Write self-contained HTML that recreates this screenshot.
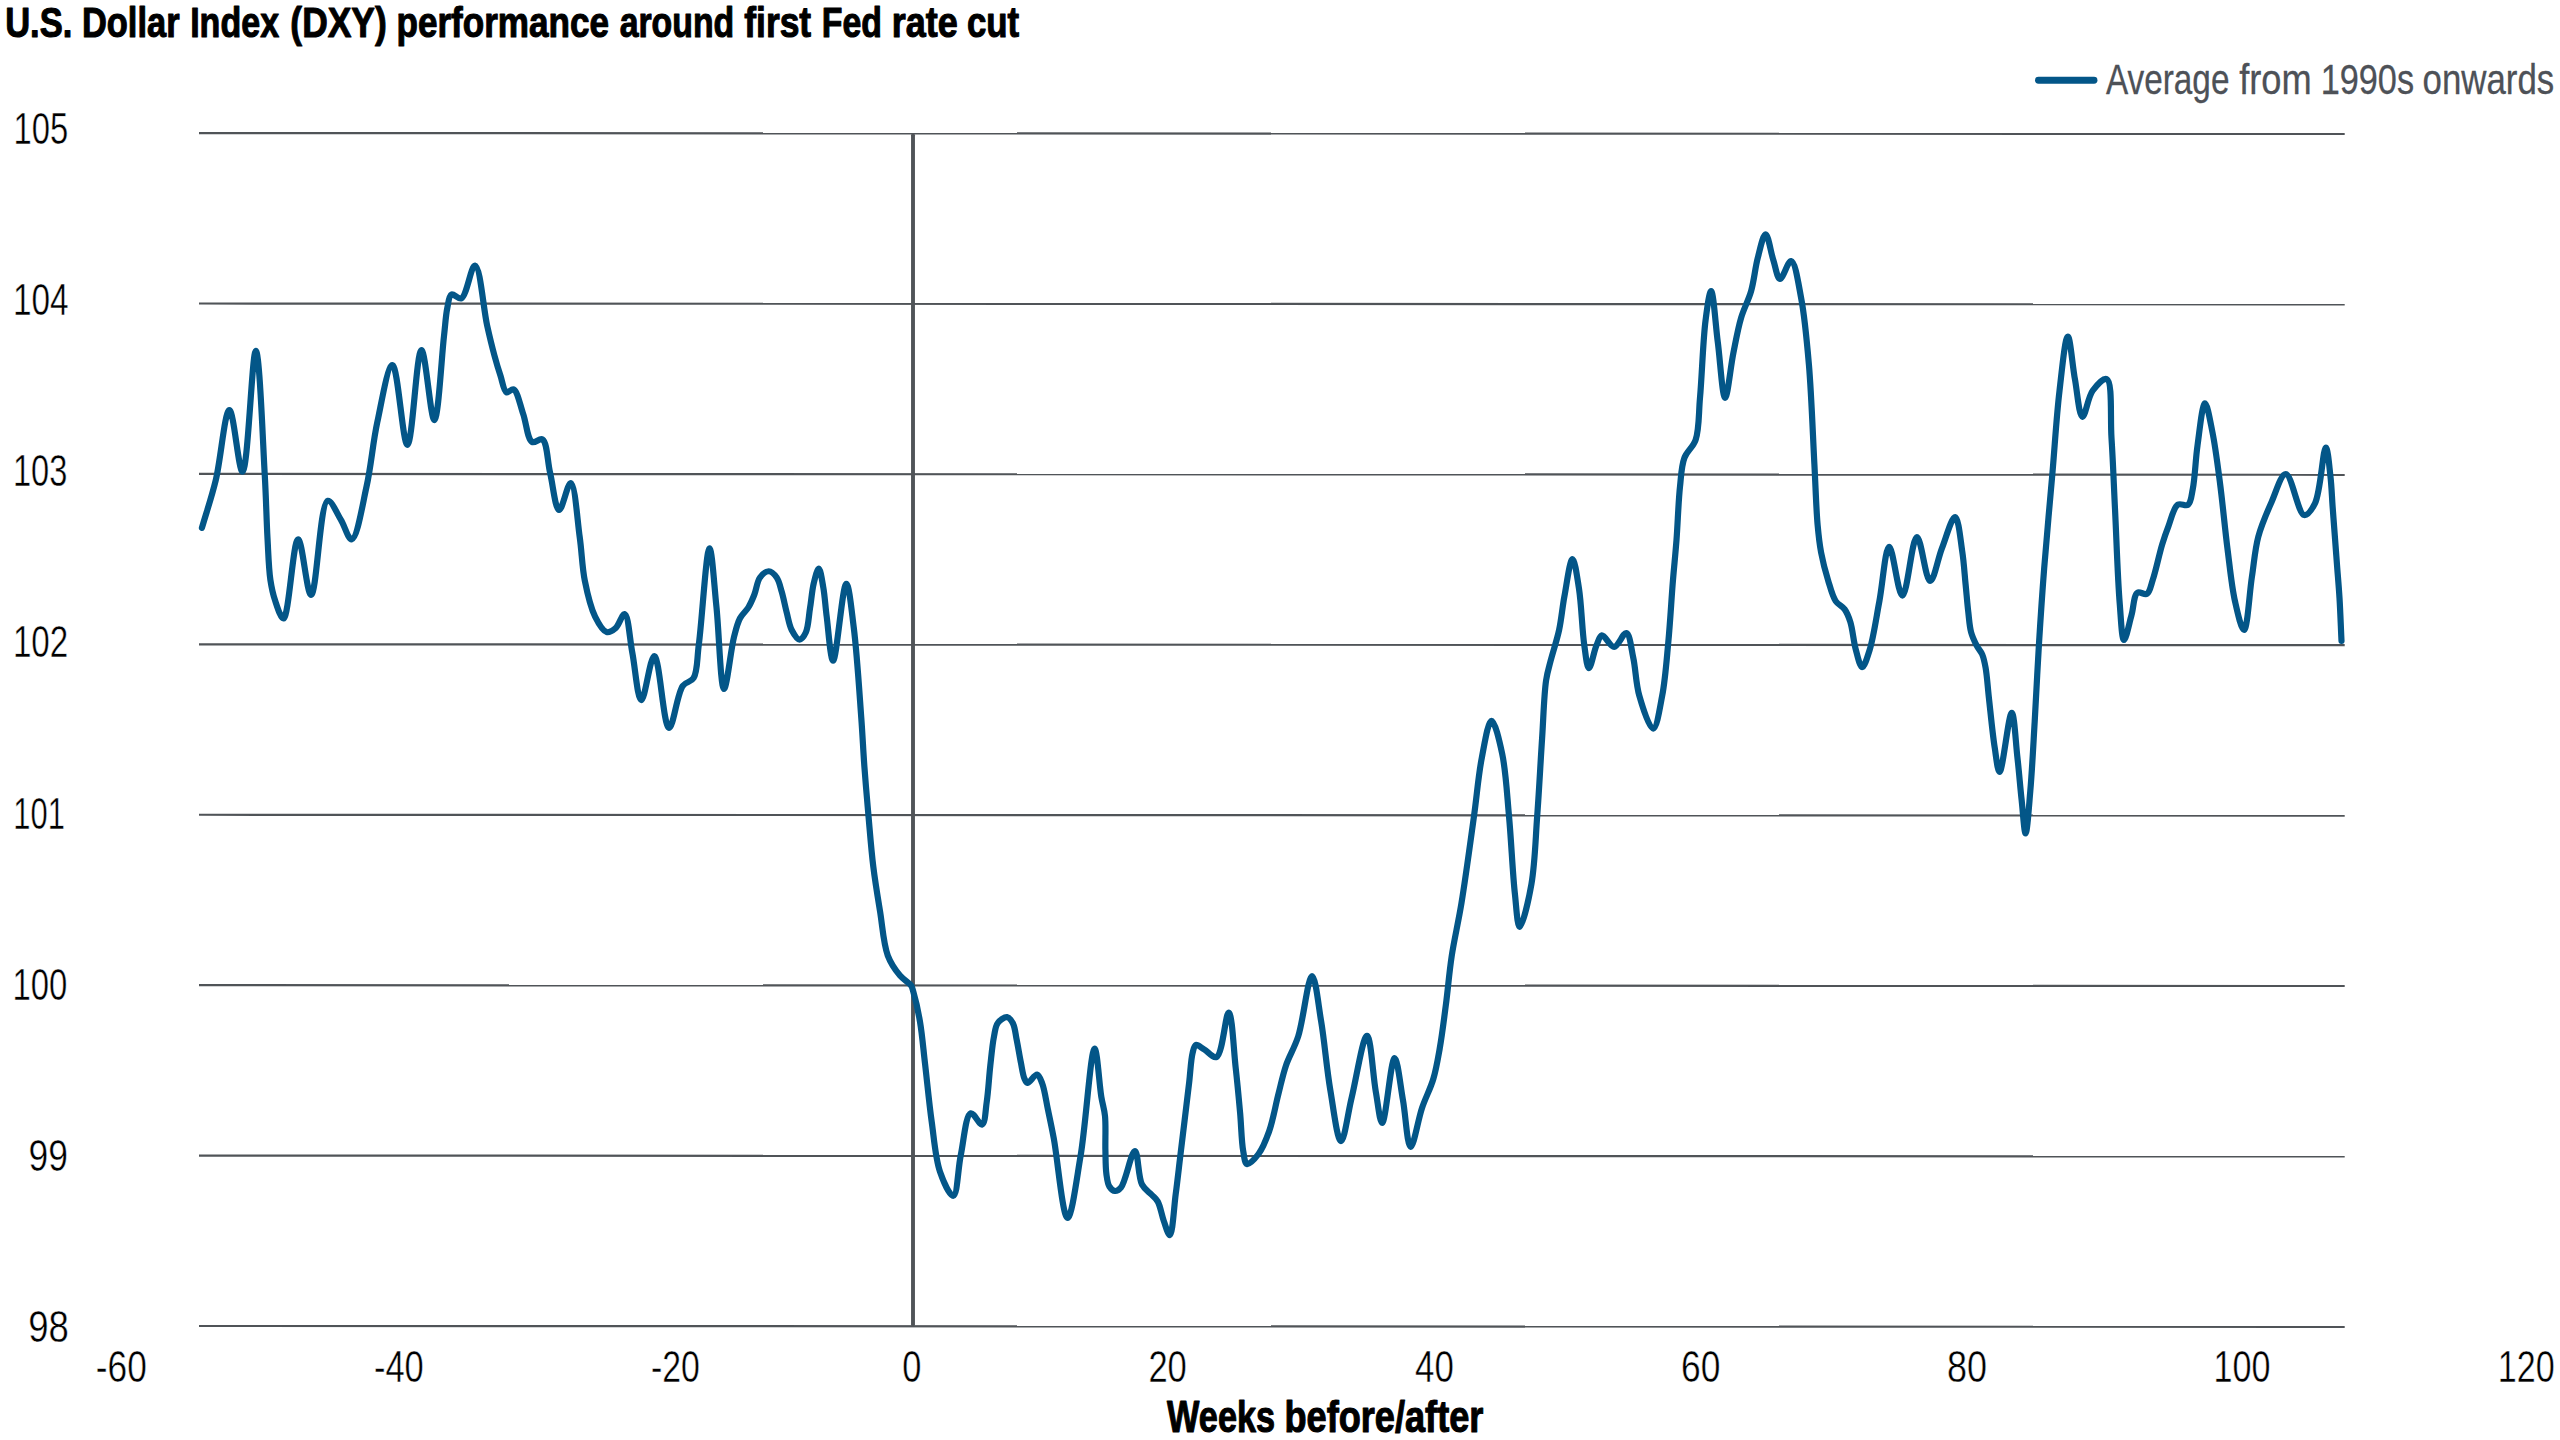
<!DOCTYPE html>
<html><head><meta charset="utf-8"><title>U.S. Dollar Index (DXY) performance around first Fed rate cut</title>
<style>
html,body{margin:0;padding:0;background:#fff;}
body{width:2560px;height:1440px;overflow:hidden;}
svg{display:block;}
</style></head><body>
<svg width="2560" height="1440" viewBox="0 0 2560 1440">
<rect width="2560" height="1440" fill="#fff"/>
<line x1="2038.5" y1="80.25" x2="2094" y2="80.25" stroke="#035688" stroke-width="6.9" stroke-linecap="round"/>
<line x1="199" y1="133.10" x2="2344.7" y2="133.95" stroke="#505458" stroke-width="2.2"/><line x1="199" y1="303.51" x2="2344.7" y2="304.36" stroke="#505458" stroke-width="2.2"/><line x1="199" y1="473.93" x2="2344.7" y2="474.78" stroke="#505458" stroke-width="2.2"/><line x1="199" y1="644.34" x2="2344.7" y2="645.19" stroke="#505458" stroke-width="2.2"/><line x1="199" y1="814.76" x2="2344.7" y2="815.61" stroke="#505458" stroke-width="2.2"/><line x1="199" y1="985.17" x2="2344.7" y2="986.02" stroke="#505458" stroke-width="2.2"/><line x1="199" y1="1155.58" x2="2344.7" y2="1156.43" stroke="#505458" stroke-width="2.2"/><line x1="199" y1="1326.00" x2="2344.7" y2="1326.85" stroke="#505458" stroke-width="2.2"/>
<line x1="913" y1="135.2" x2="913" y2="1324.6" stroke="#505458" stroke-width="3.9" stroke-linecap="round"/>
<g font-family='"Liberation Sans", Arial, sans-serif'>
<text y="36.5" font-size="43.4" font-weight="bold" fill="#000" stroke="#000" stroke-width="1.1" stroke-linejoin="round"><tspan x="5.18" textLength="67.16" lengthAdjust="spacingAndGlyphs">U.S.</tspan> <tspan x="81.95" textLength="97.64" lengthAdjust="spacingAndGlyphs">Dollar</tspan> <tspan x="190.17" textLength="88.91" lengthAdjust="spacingAndGlyphs">Index</tspan> <tspan x="290.34" textLength="96.44" lengthAdjust="spacingAndGlyphs">(DXY)</tspan> <tspan x="396.51" textLength="212.47" lengthAdjust="spacingAndGlyphs">performance</tspan> <tspan x="619.67" textLength="114.59" lengthAdjust="spacingAndGlyphs">around</tspan> <tspan x="744.25" textLength="66.93" lengthAdjust="spacingAndGlyphs">first</tspan> <tspan x="821.78" textLength="60.18" lengthAdjust="spacingAndGlyphs">Fed</tspan> <tspan x="891.75" textLength="66.05" lengthAdjust="spacingAndGlyphs">rate</tspan> <tspan x="966.91" textLength="52.26" lengthAdjust="spacingAndGlyphs">cut</tspan></text>
<text y="93.9" font-size="43.2" font-weight="normal" fill="#4d5157" stroke="#4d5157" stroke-width="0.3" stroke-linejoin="round"><tspan x="2105.90" textLength="123.55" lengthAdjust="spacingAndGlyphs">Average</tspan> <tspan x="2239.20" textLength="72.58" lengthAdjust="spacingAndGlyphs">from</tspan> <tspan x="2320.66" textLength="93.41" lengthAdjust="spacingAndGlyphs">1990s</tspan> <tspan x="2422.51" textLength="131.68" lengthAdjust="spacingAndGlyphs">onwards</tspan></text>
<text y="1431.7" font-size="43.6" font-weight="bold" fill="#000" stroke="#000" stroke-width="1.1" stroke-linejoin="round"><tspan x="1167.10" textLength="107.99" lengthAdjust="spacingAndGlyphs">Weeks</tspan> <tspan x="1284.44" textLength="198.97" lengthAdjust="spacingAndGlyphs">before/after</tspan></text>
<text y="144.0" font-size="43.6" font-weight="normal" fill="#000" stroke="#fff" stroke-width="0.45"><tspan x="13.55" textLength="54.68" lengthAdjust="spacingAndGlyphs">105</tspan></text>
<text y="314.9" font-size="43.6" font-weight="normal" fill="#000" stroke="#fff" stroke-width="0.45"><tspan x="12.92" textLength="55.61" lengthAdjust="spacingAndGlyphs">104</tspan></text>
<text y="485.8" font-size="43.6" font-weight="normal" fill="#000" stroke="#fff" stroke-width="0.45"><tspan x="12.96" textLength="54.36" lengthAdjust="spacingAndGlyphs">103</tspan></text>
<text y="656.9" font-size="43.6" font-weight="normal" fill="#000" stroke="#fff" stroke-width="0.45"><tspan x="12.93" textLength="55.32" lengthAdjust="spacingAndGlyphs">102</tspan></text>
<text y="828.8" font-size="43.6" font-weight="normal" fill="#000" stroke="#fff" stroke-width="0.45"><tspan x="13.37" textLength="51.48" lengthAdjust="spacingAndGlyphs">101</tspan></text>
<text y="1000.2" font-size="43.6" font-weight="normal" fill="#000" stroke="#fff" stroke-width="0.45"><tspan x="12.44" textLength="54.87" lengthAdjust="spacingAndGlyphs">100</tspan></text>
<text y="1171.2" font-size="43.6" font-weight="normal" fill="#000" stroke="#fff" stroke-width="0.45"><tspan x="28.54" textLength="39.40" lengthAdjust="spacingAndGlyphs">99</tspan></text>
<text y="1341.5" font-size="43.6" font-weight="normal" fill="#000" stroke="#fff" stroke-width="0.45"><tspan x="28.28" textLength="40.70" lengthAdjust="spacingAndGlyphs">98</tspan></text>
<text y="1381.5" font-size="43.6" font-weight="normal" fill="#000" stroke="#fff" stroke-width="0.45"><tspan x="95.80" textLength="50.98" lengthAdjust="spacingAndGlyphs">-60</tspan></text>
<text y="1381.5" font-size="43.6" font-weight="normal" fill="#000" stroke="#fff" stroke-width="0.45"><tspan x="373.92" textLength="49.84" lengthAdjust="spacingAndGlyphs">-40</tspan></text>
<text y="1381.5" font-size="43.6" font-weight="normal" fill="#000" stroke="#fff" stroke-width="0.45"><tspan x="650.94" textLength="48.90" lengthAdjust="spacingAndGlyphs">-20</tspan></text>
<text y="1381.5" font-size="43.6" font-weight="normal" fill="#000" stroke="#fff" stroke-width="0.45"><tspan x="902.32" textLength="19.13" lengthAdjust="spacingAndGlyphs">0</tspan></text>
<text y="1381.5" font-size="43.6" font-weight="normal" fill="#000" stroke="#fff" stroke-width="0.45"><tspan x="1148.38" textLength="38.48" lengthAdjust="spacingAndGlyphs">20</tspan></text>
<text y="1381.5" font-size="43.6" font-weight="normal" fill="#000" stroke="#fff" stroke-width="0.45"><tspan x="1415.05" textLength="38.81" lengthAdjust="spacingAndGlyphs">40</tspan></text>
<text y="1381.5" font-size="43.6" font-weight="normal" fill="#000" stroke="#fff" stroke-width="0.45"><tspan x="1681.04" textLength="39.34" lengthAdjust="spacingAndGlyphs">60</tspan></text>
<text y="1381.5" font-size="43.6" font-weight="normal" fill="#000" stroke="#fff" stroke-width="0.45"><tspan x="1946.88" textLength="40.02" lengthAdjust="spacingAndGlyphs">80</tspan></text>
<text y="1381.5" font-size="43.6" font-weight="normal" fill="#000" stroke="#fff" stroke-width="0.45"><tspan x="2213.47" textLength="56.99" lengthAdjust="spacingAndGlyphs">100</tspan></text>
<text y="1381.5" font-size="43.6" font-weight="normal" fill="#000" stroke="#fff" stroke-width="0.45"><tspan x="2497.87" textLength="56.99" lengthAdjust="spacingAndGlyphs">120</tspan></text>
</g>
<path d="M201.90,527.90 C206.53,511.93 211.55,497.57 215.80,480.00 C220.88,459.02 224.81,410.24 229.40,410.20 C233.72,410.16 238.63,471.89 242.50,471.70 C247.89,471.43 252.10,350.73 255.80,350.80 C259.56,350.87 262.81,441.27 264.80,475.80 C266.20,500.20 266.44,519.57 267.50,538.30 C268.36,553.61 268.69,568.55 270.40,580.00 C271.62,588.18 272.94,594.26 275.20,600.80 C277.36,607.06 280.85,618.84 283.50,618.50 C288.87,617.81 293.08,539.52 298.10,539.40 C302.32,539.30 306.79,594.92 311.10,594.80 C316.68,594.64 319.90,502.52 327.70,500.80 C331.52,499.96 336.79,513.15 340.80,519.60 C344.78,525.99 348.25,539.70 351.70,539.30 C357.07,538.68 362.35,505.33 366.50,486.80 C371.04,466.50 372.83,442.96 377.30,422.20 C381.55,402.50 387.72,365.03 392.40,365.20 C397.89,365.40 402.74,444.89 407.40,444.80 C412.47,444.70 416.56,350.19 421.40,350.10 C425.57,350.03 430.64,420.22 434.30,420.10 C438.29,419.97 441.61,356.51 444.00,336.00 C445.38,324.16 445.69,315.59 447.30,308.00 C448.44,302.63 448.82,295.78 451.50,294.50 C453.81,293.40 458.31,299.66 461.30,298.40 C466.80,296.08 471.08,265.12 475.00,265.50 C480.13,266.00 483.41,308.74 487.10,325.30 C489.74,337.16 492.05,346.64 494.50,355.70 C496.51,363.12 498.40,369.46 500.50,375.80 C502.42,381.60 503.55,390.99 506.50,392.30 C508.45,393.16 511.46,388.48 513.60,389.40 C517.54,391.09 520.10,405.24 523.10,413.70 C526.30,422.72 527.39,439.38 532.10,442.00 C534.92,443.57 539.68,437.74 542.40,439.40 C547.28,442.38 547.40,461.37 550.10,472.80 C552.95,484.87 555.35,509.68 559.10,510.00 C562.39,510.28 567.54,482.62 570.70,483.00 C575.01,483.52 577.28,519.92 579.70,537.00 C581.87,552.31 582.05,566.94 584.80,580.70 C587.34,593.39 590.55,607.52 595.10,616.70 C598.36,623.28 602.55,631.02 606.60,632.10 C609.49,632.87 612.90,630.50 615.60,628.20 C619.12,625.20 622.12,613.64 624.60,614.10 C628.39,614.81 629.67,639.08 632.30,652.60 C635.22,667.62 637.57,700.01 641.30,700.20 C644.94,700.38 650.17,655.83 654.30,656.00 C659.52,656.22 663.53,727.58 669.00,727.90 C673.25,728.15 676.94,693.76 682.80,685.80 C685.99,681.47 690.88,682.43 693.50,678.20 C697.72,671.39 696.90,658.71 698.80,644.60 C702.00,620.79 706.27,548.31 709.50,548.30 C712.01,548.29 714.18,585.32 716.40,606.40 C719.04,631.48 720.55,688.73 724.00,688.90 C726.75,689.04 730.70,649.90 734.00,637.00 C736.01,629.13 737.28,623.49 740.00,618.30 C742.27,613.98 745.94,611.37 748.30,607.50 C750.68,603.60 752.37,599.58 754.20,595.00 C756.31,589.71 757.00,581.57 760.00,577.50 C762.29,574.39 765.93,571.19 768.75,571.25 C771.49,571.31 774.63,574.61 776.70,577.50 C779.23,581.03 780.16,586.47 781.70,591.70 C783.54,597.93 784.96,605.88 786.70,612.50 C788.30,618.60 789.20,625.24 791.70,630.00 C793.77,633.93 797.11,639.56 799.60,639.60 C801.77,639.63 804.19,635.87 805.80,632.50 C808.40,627.06 808.68,616.44 810.00,608.30 C811.34,600.04 812.01,590.47 813.75,583.30 C815.11,577.68 817.23,568.53 818.75,568.60 C820.45,568.68 822.05,580.48 823.30,587.50 C824.84,596.14 825.30,605.99 826.70,616.70 C828.42,629.86 830.46,660.57 833.10,660.60 C836.60,660.64 842.48,583.75 846.25,583.75 C849.10,583.75 851.56,610.26 853.75,627.50 C856.88,652.09 859.37,691.99 861.25,717.50 C862.64,736.35 863.20,750.39 864.40,766.70 C865.59,782.85 866.95,798.55 868.40,814.90 C869.91,831.86 871.27,850.13 873.30,866.70 C875.19,882.10 877.59,896.31 880.00,911.10 C882.42,925.94 883.43,944.01 887.80,955.60 C890.95,963.95 895.62,970.32 900.00,975.60 C903.50,979.82 908.96,982.42 911.10,985.60 C912.51,987.70 912.47,988.86 913.30,991.70 C915.10,997.88 918.14,1010.83 920.00,1021.70 C922.17,1034.39 923.23,1048.26 925.00,1063.30 C927.09,1081.12 929.08,1103.02 931.70,1121.70 C934.13,1139.05 935.36,1158.35 940.00,1171.70 C943.42,1181.54 949.94,1196.35 953.30,1195.80 C957.42,1195.13 957.91,1168.64 960.80,1155.00 C963.73,1141.14 965.70,1114.75 970.80,1113.30 C973.91,1112.42 979.46,1125.30 982.10,1124.50 C985.26,1123.54 985.43,1110.51 986.70,1102.10 C988.31,1091.45 989.01,1077.07 990.30,1065.60 C991.46,1055.34 992.41,1044.31 994.00,1036.50 C995.10,1031.10 995.34,1026.27 997.80,1023.00 C999.97,1020.11 1004.48,1016.87 1007.10,1017.20 C1009.40,1017.49 1011.41,1020.52 1012.90,1023.30 C1014.99,1027.20 1015.38,1033.52 1016.60,1039.40 C1018.06,1046.44 1019.48,1055.70 1020.90,1062.70 C1022.07,1068.49 1022.85,1074.93 1024.40,1078.50 C1025.30,1080.57 1026.05,1082.82 1027.50,1083.00 C1029.71,1083.27 1034.49,1074.21 1037.00,1074.60 C1039.22,1074.94 1040.60,1079.33 1042.10,1083.10 C1044.57,1089.32 1046.00,1100.40 1047.90,1109.40 C1049.90,1118.85 1051.53,1126.39 1053.80,1138.50 C1057.54,1158.46 1062.75,1217.91 1067.50,1218.00 C1071.72,1218.08 1076.57,1179.42 1080.60,1155.80 C1085.85,1125.01 1090.73,1048.72 1094.60,1048.70 C1097.19,1048.69 1099.25,1084.30 1101.30,1096.70 C1102.61,1104.59 1104.26,1108.62 1105.00,1116.00 C1105.98,1125.70 1105.12,1139.65 1105.40,1150.00 C1105.63,1158.70 1105.47,1167.33 1106.40,1174.00 C1107.08,1178.88 1107.54,1183.57 1109.40,1186.50 C1110.79,1188.69 1113.05,1190.85 1115.00,1191.00 C1116.92,1191.14 1119.01,1189.84 1121.00,1187.50 C1125.71,1181.95 1131.35,1150.72 1134.90,1151.00 C1138.22,1151.26 1137.99,1176.84 1142.00,1184.50 C1144.61,1189.48 1149.04,1191.89 1151.90,1195.00 C1154.14,1197.44 1156.09,1198.58 1157.80,1201.60 C1160.39,1206.18 1161.64,1215.09 1163.80,1221.00 C1165.68,1226.15 1168.10,1235.42 1169.80,1235.20 C1172.58,1234.84 1173.93,1207.55 1175.70,1194.20 C1177.38,1181.48 1178.70,1169.33 1180.20,1156.90 C1181.70,1144.47 1183.20,1132.04 1184.70,1119.60 C1186.20,1107.14 1187.82,1093.90 1189.20,1082.20 C1190.42,1071.87 1190.89,1059.61 1192.60,1053.00 C1193.53,1049.41 1194.05,1045.66 1195.90,1045.00 C1197.82,1044.31 1201.11,1047.68 1204.10,1049.40 C1207.84,1051.54 1213.03,1058.37 1216.50,1057.00 C1222.67,1054.57 1225.57,1012.48 1228.70,1012.70 C1232.12,1012.94 1233.65,1049.66 1235.60,1067.00 C1237.39,1082.90 1238.79,1098.22 1240.10,1112.80 C1241.29,1126.11 1241.48,1141.68 1243.20,1151.00 C1244.22,1156.54 1244.59,1163.29 1247.00,1164.00 C1249.55,1164.75 1255.13,1158.47 1258.50,1154.00 C1262.84,1148.25 1266.12,1139.79 1269.20,1131.10 C1272.96,1120.48 1275.35,1105.99 1278.30,1094.50 C1280.93,1084.23 1282.74,1074.98 1286.00,1065.40 C1289.34,1055.61 1294.46,1048.01 1298.20,1036.40 C1303.45,1020.10 1307.98,975.95 1312.00,976.00 C1315.46,976.04 1318.31,1004.43 1321.10,1021.10 C1324.53,1041.57 1326.68,1068.72 1330.30,1089.90 C1333.45,1108.29 1337.29,1141.04 1341.00,1141.10 C1344.44,1141.16 1347.80,1113.29 1351.70,1097.50 C1356.33,1078.71 1362.92,1035.62 1367.00,1035.80 C1370.85,1035.97 1372.92,1075.79 1375.80,1091.70 C1377.96,1103.63 1379.76,1122.92 1382.20,1122.90 C1385.71,1122.88 1390.84,1058.22 1394.60,1058.20 C1397.61,1058.19 1400.30,1085.41 1402.90,1099.70 C1405.66,1114.88 1407.21,1146.59 1410.60,1146.80 C1413.73,1146.99 1418.02,1119.65 1422.10,1107.70 C1425.65,1097.31 1430.37,1088.83 1433.30,1079.00 C1436.24,1069.13 1437.74,1059.74 1439.70,1048.60 C1442.06,1035.17 1444.03,1019.06 1446.00,1003.90 C1448.04,988.24 1449.23,972.37 1451.70,956.10 C1454.30,938.97 1458.15,923.36 1461.40,903.60 C1465.58,878.17 1470.36,842.32 1474.00,816.10 C1476.97,794.71 1478.42,774.94 1481.80,757.80 C1484.53,743.98 1488.01,720.90 1491.50,720.80 C1494.83,720.71 1499.43,740.98 1502.20,753.90 C1505.91,771.23 1506.97,794.19 1509.00,816.10 C1511.26,840.57 1512.64,873.47 1514.90,893.90 C1516.38,907.25 1517.27,926.75 1519.70,926.90 C1522.50,927.07 1528.55,900.23 1531.40,884.20 C1534.95,864.28 1535.46,839.57 1537.20,816.10 C1539.06,791.04 1540.51,762.32 1542.10,738.30 C1543.47,717.57 1543.98,694.58 1546.10,680.40 C1547.36,672.01 1548.85,667.90 1550.70,660.60 C1553.01,651.49 1556.84,640.50 1559.10,630.00 C1561.44,619.13 1562.26,607.87 1564.40,596.40 C1566.67,584.24 1569.94,559.00 1572.50,559.00 C1574.78,559.00 1577.20,577.23 1579.00,588.80 C1581.45,604.58 1582.15,630.69 1584.30,645.30 C1585.68,654.67 1586.89,668.08 1588.90,668.20 C1590.94,668.32 1593.91,651.27 1596.50,645.30 C1598.27,641.22 1599.40,635.80 1601.90,635.40 C1604.94,634.91 1610.12,646.98 1614.10,646.80 C1618.27,646.61 1623.20,632.39 1626.30,633.10 C1629.94,633.94 1631.19,648.39 1633.20,657.50 C1635.68,668.75 1635.86,683.64 1639.30,695.70 C1642.60,707.28 1649.26,728.84 1653.10,728.60 C1656.86,728.36 1659.79,708.10 1662.20,695.70 C1665.22,680.13 1666.56,660.64 1668.30,642.20 C1670.16,622.53 1671.41,599.45 1672.90,581.10 C1674.13,566.04 1675.38,554.60 1676.50,540.00 C1677.77,523.39 1678.36,501.74 1680.00,486.70 C1681.21,475.57 1681.35,466.01 1684.40,457.80 C1686.99,450.84 1692.98,447.57 1695.60,440.00 C1699.32,429.24 1698.57,414.01 1700.00,397.80 C1701.94,375.82 1703.04,339.58 1705.60,320.00 C1707.17,307.97 1709.33,291.05 1711.10,291.10 C1713.44,291.17 1715.52,324.81 1717.80,342.20 C1720.18,360.34 1722.35,397.73 1725.10,397.80 C1727.57,397.86 1730.48,367.27 1733.30,353.30 C1735.83,340.78 1737.88,328.69 1741.10,317.80 C1743.95,308.16 1748.38,300.61 1751.10,291.10 C1754.07,280.72 1755.13,267.85 1757.80,257.80 C1760.08,249.24 1763.07,234.36 1765.60,234.40 C1768.24,234.44 1770.73,252.14 1773.30,260.00 C1775.53,266.81 1777.08,278.58 1780.00,278.90 C1782.98,279.22 1787.92,260.63 1791.10,261.10 C1795.38,261.73 1798.36,283.64 1801.10,297.80 C1804.74,316.60 1806.79,339.92 1808.90,364.40 C1811.47,394.32 1812.83,435.26 1814.40,464.40 C1815.62,487.03 1816.15,508.46 1817.60,524.70 C1818.59,535.76 1819.37,543.29 1821.10,552.50 C1822.85,561.82 1825.47,571.77 1828.10,580.30 C1830.41,587.80 1832.31,596.01 1835.70,601.10 C1838.22,604.89 1842.30,606.06 1844.70,609.40 C1847.24,612.93 1848.68,616.80 1850.30,621.90 C1852.64,629.24 1853.54,641.59 1855.80,649.70 C1857.62,656.25 1859.80,667.03 1862.10,667.10 C1864.43,667.18 1867.37,657.12 1869.70,649.70 C1873.46,637.72 1876.23,617.76 1879.40,601.10 C1882.74,583.54 1885.25,547.07 1889.20,546.90 C1892.98,546.74 1897.99,595.65 1902.40,595.60 C1907.22,595.55 1911.95,537.32 1916.90,537.20 C1921.21,537.09 1925.64,580.88 1930.10,581.00 C1933.99,581.10 1937.70,559.02 1941.90,548.30 C1946.04,537.72 1951.72,516.77 1955.10,517.10 C1958.52,517.43 1960.45,539.78 1962.20,551.10 C1963.92,562.21 1964.54,573.80 1965.60,584.40 C1966.56,594.08 1967.29,603.70 1968.30,612.20 C1969.16,619.42 1969.48,626.29 1971.10,632.20 C1972.47,637.21 1974.67,641.67 1976.70,645.60 C1978.42,648.92 1980.76,651.03 1982.20,654.40 C1983.86,658.29 1984.62,662.40 1985.60,667.80 C1987.04,675.77 1987.63,686.54 1988.90,697.80 C1990.54,712.31 1992.54,733.98 1994.70,747.60 C1996.22,757.17 1997.59,771.90 1999.60,771.90 C2002.73,771.90 2008.66,712.69 2011.70,712.80 C2014.29,712.90 2015.65,741.80 2017.30,756.30 C2018.95,770.76 2020.13,786.14 2021.60,799.70 C2022.90,811.68 2024.24,833.51 2025.60,833.50 C2027.13,833.49 2028.92,806.92 2030.30,791.00 C2032.07,770.69 2033.29,745.35 2034.70,721.50 C2036.20,696.23 2037.40,669.21 2039.00,643.40 C2040.57,618.01 2042.13,594.46 2044.20,567.90 C2046.51,538.18 2049.77,503.93 2052.40,473.50 C2054.86,445.02 2056.56,415.43 2059.50,390.80 C2061.89,370.76 2065.08,336.52 2067.80,336.50 C2070.21,336.48 2072.39,365.27 2074.90,379.00 C2077.27,391.99 2079.09,416.50 2082.40,416.80 C2085.22,417.05 2087.88,397.36 2092.60,390.80 C2096.43,385.48 2103.36,377.60 2106.70,379.00 C2112.69,381.51 2110.15,417.50 2111.50,438.10 C2112.97,460.62 2113.75,483.61 2115.00,508.90 C2116.45,538.11 2117.69,579.16 2119.70,603.30 C2120.96,618.40 2121.72,639.80 2124.00,640.00 C2125.91,640.17 2129.22,623.29 2131.50,615.20 C2133.66,607.54 2133.62,595.25 2137.40,592.70 C2139.82,591.06 2144.45,595.32 2146.90,593.90 C2150.01,592.10 2150.81,585.58 2152.80,579.70 C2155.87,570.63 2159.22,554.08 2162.20,544.30 C2164.35,537.25 2165.98,532.52 2168.40,526.30 C2171.09,519.38 2173.43,507.57 2177.80,504.70 C2180.69,502.80 2185.64,506.54 2188.10,504.70 C2191.23,502.36 2191.46,495.47 2192.80,488.80 C2194.97,478.00 2195.46,459.88 2197.50,445.60 C2199.53,431.42 2202.24,403.51 2205.00,403.40 C2207.31,403.31 2210.25,421.40 2212.50,432.50 C2215.43,446.98 2217.64,465.11 2220.00,483.10 C2222.68,503.55 2224.85,528.14 2227.50,548.80 C2229.88,567.30 2231.65,586.54 2235.00,601.30 C2237.52,612.42 2241.44,630.20 2244.00,630.00 C2247.42,629.73 2249.36,593.36 2251.90,576.90 C2254.11,562.56 2254.88,549.47 2258.30,536.70 C2261.58,524.45 2266.86,512.54 2271.70,501.70 C2276.09,491.85 2280.92,474.08 2285.80,474.20 C2291.67,474.35 2298.13,514.01 2304.20,515.00 C2307.82,515.59 2311.99,509.26 2315.00,503.30 C2320.69,492.04 2323.04,447.46 2325.80,447.50 C2327.76,447.53 2329.27,466.16 2330.40,475.80 C2331.57,485.78 2331.85,496.20 2332.60,506.40 C2333.35,516.60 2334.13,526.81 2334.90,537.00 C2335.67,547.18 2336.43,557.33 2337.20,567.50 C2337.97,577.67 2338.83,586.97 2339.50,598.00 C2340.30,611.06 2340.83,626.53 2341.50,640.80" fill="none" stroke="#035688" stroke-width="6.2" stroke-linejoin="round" stroke-linecap="round"/>
</svg>
</body></html>
